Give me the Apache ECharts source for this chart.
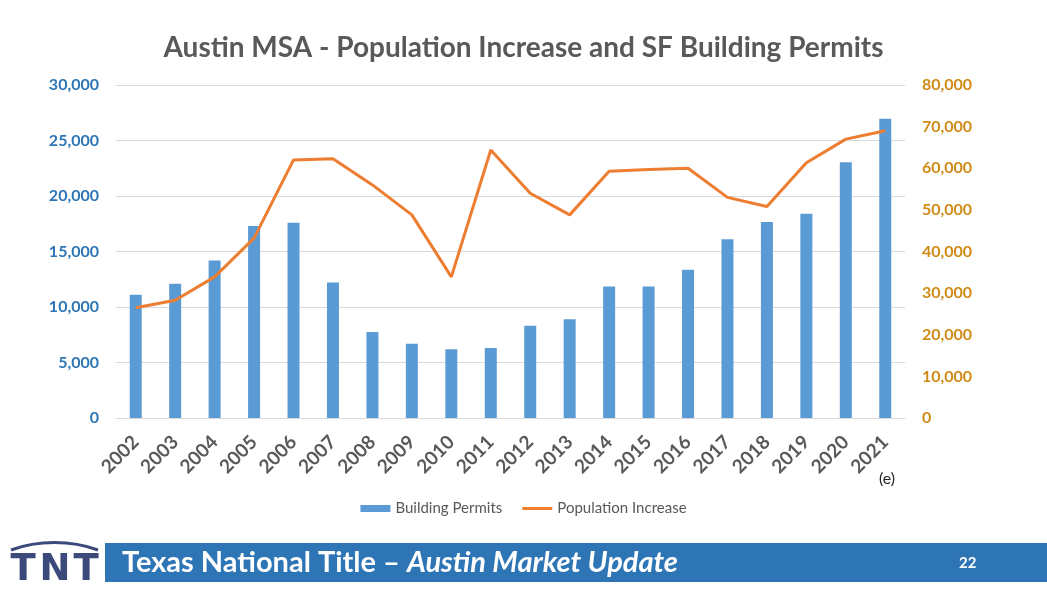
<!DOCTYPE html>
<html>
<head>
<meta charset="utf-8">
<script src="https://cdn.jsdelivr.net/npm/echarts@6/dist/echarts.min.js"></script>
<style>
html,body{margin:0;padding:0;background:#fff;}
#chart{width:1047px;height:589px;}
</style>
</head>
<body>
<div id="chart"></div>
<script>
var years=["2002","2003","2004","2005","2006","2007","2008","2009","2010","2011","2012","2013","2014","2015","2016","2017","2018","2019","2020","2021"];
var permits=[11100,12100,14200,17300,17600,12200,7750,6700,6200,6300,8300,8900,11850,11850,13350,16100,17650,18400,23050,26950];
var population=[26500,28300,33900,43200,62000,62300,56000,48800,33900,64400,54000,48800,59300,59700,60000,53000,50800,61300,67000,69000];
var leftTicks=[0,30000,5000];
var rightTicks=[0,80000,10000];

var oChart=echarts.init(document.getElementById("chart"));
var sFont="Lato, 'Open Sans', sans-serif";
var sLogo="'DejaVu Sans', sans-serif";
var option={
    animation:false,
    title:{
        text:"Austin MSA - Population Increase and SF Building Permits",
        left:"center",
        top:29,
        textStyle:{color:"#595959",fontSize:28,fontWeight:"bold",fontFamily:sFont}
    },
    grid:{left:116,right:142,top:85,bottom:171},
    legend:{
        top:496,
        left:"center",
        itemGap:20,
        itemWidth:30,
        itemHeight:7,
        textStyle:{color:"#595959",fontSize:15,fontFamily:sFont},
        data:[
            {name:"Building Permits",icon:"rect"},
            {name:"Population Increase",icon:"path://M0,0 L30,0 L30,3 L0,3 Z"}
        ]
    },
    xAxis:{
        type:"category",
        data:years,
        axisLine:{lineStyle:{color:"#D9D9D9"}},
        axisTick:{show:false},
        axisLabel:{rotate:45,color:"#595959",fontSize:19,fontWeight:"bold",fontFamily:sFont,margin:21,interval:0}
    },
    yAxis:[
        {
            type:"value",
            min:leftTicks[0],max:leftTicks[1],interval:leftTicks[2],
            axisLine:{show:false},
            axisTick:{show:false},
            splitLine:{lineStyle:{color:"#D9D9D9"}},
            axisLabel:{color:"#2E75B6",fontSize:16,fontWeight:"bold",fontFamily:sFont,margin:17,
                formatter:function(v){return v.toLocaleString("en-US");}}
        },
        {
            type:"value",
            position:"right",
            min:rightTicks[0],max:rightTicks[1],interval:rightTicks[2],
            axisLine:{show:false},
            axisTick:{show:false},
            splitLine:{show:false},
            axisLabel:{color:"#D08B17",fontSize:16,fontWeight:"bold",fontFamily:sFont,margin:17,
                formatter:function(v){return v.toLocaleString("en-US");}}
        }
    ],
    series:[
        {
            name:"Building Permits",
            type:"bar",
            barWidth:12,
            itemStyle:{color:"#5B9BD5"},
            data:permits
        },
        {
            name:"Population Increase",
            type:"line",
            yAxisIndex:1,
            symbol:"none",
            lineStyle:{color:"#ED7D31",width:3},
            itemStyle:{color:"#ED7D31"},
            data:population
        }
    ],
    graphic:[
        {type:"text",left:879,top:471,style:{text:"(e)",fill:"#262626",font:"16px "+sFont}},
        {type:"rect",shape:{x:105,y:543,width:942,height:39},style:{fill:"#2E75B6"}},
        {type:"text",left:122,top:548,style:{
            rich:{
                a:{fill:"#fff",fontSize:29,fontWeight:"bold",fontFamily:sFont},
                b:{fill:"#fff",fontSize:29,fontWeight:"bold",fontStyle:"italic",fontFamily:sFont}
            },
            text:"{a|Texas National Title – }{b|Austin Market Update}"
        }},
        {type:"text",left:959,top:556,style:{text:"22",fill:"#fff",font:"bold 15px "+sFont}},
        // TNT logo
        {type:"text",x:23,y:570,style:{text:"T",fill:"#3B4A7A",font:"bold 37px "+sLogo,align:"center",verticalAlign:"middle"}},
        {type:"text",x:55,y:570,style:{text:"N",fill:"#3B4A7A",font:"bold 37px "+sLogo,align:"center",verticalAlign:"middle"}},
        {type:"text",x:86,y:570,style:{text:"T",fill:"#3B4A7A",font:"bold 37px "+sLogo,align:"center",verticalAlign:"middle"}},
        {type:"bezierCurve",shape:{x1:11,y1:550,x2:98,y2:550,cpx1:38,cpy1:540,cpx2:71,cpy2:540},style:{stroke:"#3B4A7A",lineWidth:3,fill:null}}
    ]
};
oChart.setOption(option);
</script>
</body>
</html>
